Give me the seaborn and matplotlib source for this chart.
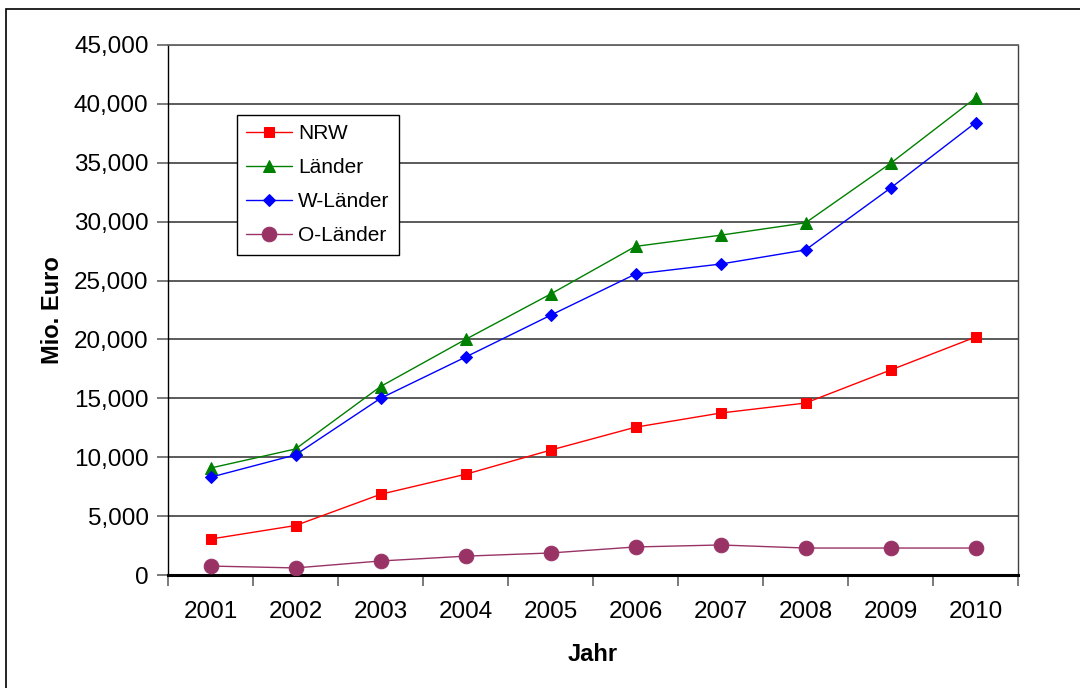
import numpy as np
import pandas as pd
import seaborn as sns
import matplotlib.pyplot as plt
from matplotlib.patches import Rectangle
from matplotlib.ticker import FuncFormatter, MultipleLocator, FixedLocator

# data (Mio. Euro)
years = ["2001", "2002", "2003", "2004", "2005", "2006", "2007", "2008", "2009", "2010"]
nrw = [3050, 4200, 6850, 8550, 10600, 12550, 13750, 14600, 17400, 20200]
laender = [9080, 10700, 16000, 20000, 23850, 27900, 28850, 29900, 34950, 40500]
w_laender = [8300, 10200, 15000, 18500, 22050, 25550, 26400, 27600, 32850, 38400]
o_laender = [760, 600, 1190, 1600, 1870, 2380, 2550, 2290, 2290, 2290]

series = {"NRW": nrw, "Länder": laender, "W-Länder": w_laender, "O-Länder": o_laender}
styles = {
    "NRW": dict(color="#ff0000", marker="s", markersize=7.5),
    "Länder": dict(color="#008000", marker="^", markersize=8.5),
    "W-Länder": dict(color="#0000ff", marker="D", markersize=6.5),
    "O-Länder": dict(color="#993366", marker="o", markersize=10.5),
}

df = pd.DataFrame(
    [(i, name, v) for name, vals in series.items() for i, v in enumerate(vals)],
    columns=["pos", "serie", "wert"],
)

sns.set_theme(style="white")
plt.rcParams["font.family"] = ["Liberation Sans", "DejaVu Sans"]
plt.rcParams["text.color"] = "black"
plt.rcParams["axes.labelcolor"] = "black"

fig = plt.figure(figsize=(10.8, 6.88), dpi=100)
ax = fig.add_axes([168 / 1080, 1 - 575 / 688, 850 / 1080, 530 / 688])

for name in series:
    st = styles[name]
    sns.lineplot(data=df[df["serie"] == name], x="pos", y="wert", ax=ax,
                 color=st["color"], marker=st["marker"], markersize=st["markersize"],
                 markeredgecolor=st["color"], linewidth=1.0, label=name, zorder=3)

ax.set_xlim(-0.5, len(years) - 0.5)
ax.set_ylim(0, 45000)
ax.yaxis.set_major_locator(MultipleLocator(5000))
ax.yaxis.set_major_formatter(FuncFormatter(lambda v, p: f"{int(v):,}"))
ax.grid(axis="y", color="#4d4d4d", linewidth=1.3)
ax.set_axisbelow(True)

ax.set_xticks(range(len(years)))
ax.set_xticklabels(years)
ax.xaxis.set_minor_locator(FixedLocator(np.arange(-0.5, len(years), 1.0)))
ax.tick_params(axis="x", which="major", length=0, pad=19, labelsize=17.5, labelcolor="black")
ax.tick_params(axis="x", which="minor", bottom=True, length=8, width=1.3, color="#707070")
ax.tick_params(axis="y", left=True, length=8, width=1.3, color="#707070", pad=6,
               labelsize=17.5, labelcolor="black")

for side in ["left", "right", "top", "bottom"]:
    ax.spines[side].set_visible(True)
ax.spines["left"].set_color("black")
ax.spines["left"].set_linewidth(1.0)
ax.spines["bottom"].set_color("black")
ax.spines["bottom"].set_linewidth(2.2)
ax.spines["right"].set_color("#404040")
ax.spines["right"].set_linewidth(1.0)
ax.spines["top"].set_color("#666666")
ax.spines["top"].set_linewidth(1.3)

ax.set_xlabel("Jahr", fontsize=17, fontweight="bold", labelpad=14, color="black")
ax.set_ylabel("Mio. Euro", fontsize=17, fontweight="bold", labelpad=7, color="black")

leg = ax.legend(loc="upper left", bbox_to_anchor=(0.081, 0.868), borderaxespad=0,
                fontsize=15, frameon=True, fancybox=False, edgecolor="black",
                handlelength=2.2, handletextpad=0.3, labelspacing=0.72,
                borderpad=0.45)
leg.get_frame().set_linewidth(1.0)
leg.get_frame().set_alpha(1)
for t in leg.get_texts():
    t.set_color("black")

# outer chart frame
fig.patches.append(Rectangle((6 / 1080, -0.05), 1.2, 1 - 9 / 688 + 0.05,
                             transform=fig.transFigure, fill=False,
                             edgecolor="black", linewidth=1.2))

fig.savefig("out.png", dpi=100)
plt.close(fig)
